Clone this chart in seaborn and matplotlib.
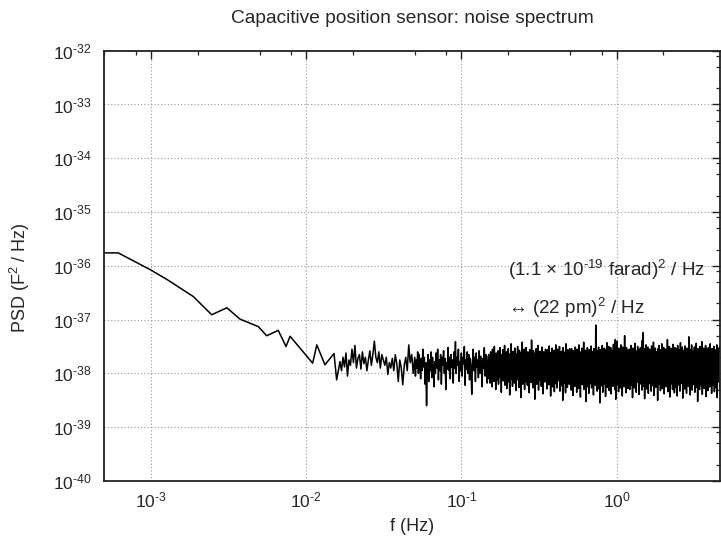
import numpy as np
import pandas as pd
import seaborn as sns
import matplotlib.pyplot as plt
from matplotlib.ticker import LogLocator, NullFormatter, FixedLocator, FuncFormatter

# low-frequency part: frequency (Hz) and log10 PSD
low_freq = [5.0e-4, 6.15e-4, 9.86e-4, 1.26e-3, 1.87e-3, 2.46e-3, 3.08e-3, 3.74e-3,
            4.91e-3, 5.56e-3, 6.6e-3, 7.41e-3, 7.87e-3, 9.12e-3, 1.10e-2, 1.17e-2,
            1.32e-2, 1.51e-2, 1.57e-2]
low_log_psd = [-35.76, -35.76, -36.07, -36.25, -36.57, -36.91, -36.78, -36.99,
               -37.13, -37.30, -37.20, -37.50, -37.31, -37.53, -37.81, -37.47,
               -37.84, -37.63, -38.12]

# noise floor, in hundredths of a decade above 1e-38
# 0.0165 - 0.05 Hz
noise_a = [22, 5, 30, 12, 38, -5, 25, 15, 45, 20, 52, 10, 28, 35, 8, 40, 18, 30, 5, 25,
           42, 15, 35, 60, 30, 20, 40, 10, 35, 25, 15, 30, -2, 20, 10, 28, 5, 35, 18, -15,
           25, 10, -21, 15, 30, 5, 53, 20, 35, 0]
# 0.05 - 0.15 Hz
noise_b = [30, -5, 25, 10, 40, 0, 35, 15, -10, 28, 5, 45, 12, 30, -20, 20, -60, 10, 35, -15,
           25, 5, 40, -8, 30, 12, -25, 22, 0, 38, 10, 45, -12, 25, 5, 35, -20, 30, 15, 42,
           0, 28, -30, 20, 8, 48, 5, 30, -10, 35, 12, 25, -18, 40, 10, 59, 0, 30, 15, 45,
           -15, 22, 5, 38, -5, 30, 18, 50, -22, 25, 8, 40, 0, 35, -12, 28, 10, -39, 20, 45,
           5, 30, -15, 38, 12, 25, -8, 42, 0, 32, 15, -25, 28, 10, 48, -5, 35, 20, -18, 30]
# 0.15 - 4.7 Hz
noise_c = [35, -10, 28, -18, 40, 2, 30, -25, 45, 5, 25, -15, 50, -5, 32, -30, 38, 0, 28, -12,
           42, -20, 30, 5, 48, -8, 35, -35, 26, -2, 44, -14, 30, 8, 52, -22, 34, -6, 40, -28,
           30, 0, 46, -16, 36, -40, 28, 6, 55, -10, 33, -24, 41, 2, 29, -18, 47, -4, 37, -32,
           26, 4, 50, -12, 34, -26, 43, -6, 31, -45, 39, 0, 58, -20, 30, -8, 45, -30, 35, 3,
           48, -15, 28, -22, 40, 1, 33, -36, 44, -9, 36, -17, 62, -3, 29, -27, 42, -11, 31, -48,
           38, 5, 46, -20, 32, -5, 52, -31, 35, -13, 41, 0, 27, -24, 49, -7, 34, -38, 40, 2,
           30, -16, 45, -10, 37, -29, 44, -2, 33, -21, 51, -12, 39, -42, 28, 0, 47, -25, 36, -8,
           43, -34, 31, -6, 53, -19, 38, -27, 45, 1, 34, -14, 50, -33, 29, -9, 41, -23, 37, -50,
           48, -4, 32, -18, 40, -36, 55, -11, 35, -26, 44, 3, 30, -20, 46, -7, 39, -31, 46, -15,
           33, -41, 42, -2, 36, -24, 49, -12, 31, -35, 45, -5, 38, -28, 53, -17, 34, -44, 40, 0,
           47, -21, 35, -9, 58, -30, 37, -14, 43, -52, 32, -6, 48, -25, 39, -37, 44, -10, 36, -19,
           51, -27, 34, -3, 41, -40, 46, -16, 38, -22, 90, -8, 35, -33, 42, -13, 49, -29, 37, -55,
           44, -11, 39, -23, 52, -35, 36, -5, 47, -20, 40, -43, 45, -15, 57, -26, 38, -9, 50, -32,
           41, -18, 48, -38, 43, -7, 36, -24, 54, -14, 46, -30, 63, -48, 44, -12, 60, -21, 40, -34,
           47, -6, 42, -27, 53, -17, 38, -42, 49, -11, 45, -25, 70, -19, 41, -36, 48, -8, 43, -28,
           36, -14, 45, -30, 41, -4, 52, -22, 38, -45, 47, -10, 33, -27, 56, -6, 42, -35, 39, -17,
           50, -2, 37, -39, 44, -20, 48, -12, 35, -31, 61, -8, 76, -24, 46, -47, 38, -15, 53, -29,
           34, -5, 49, -37, 42, -19, 45, -9, 39, -33, 51, -23, 36, -3, 58, -41, 43, -16, 47, -26,
           40, -11, 37, -50, 46, -21, 52, -7, 38, -32, 44, -14, 55, -28, 41, -1, 48, -38, 36, -18,
           45, -25, 39, -6, 63, -34, 43, -13, 50, -44, 37, -20, 47, -9, 42, -30, 54, -16, 40, -36,
           48, -4, 35, -27, 46, -42, 52, -11, 39, -22, 44, -33, 57, -7, 41, -19, 49, -46, 38, -12,
           43, -29, 51, -15, 36, -37, 47, -3, 40, -24, 68, -18, 45, -40, 39, -10, 53, -31, 42, -21,
           37, -8, 49, -35, 44, -17, 56, -26, 41, -52, 46, -12, 38, -30, 50, -5, 43, -23, 59, -39,
           40, -14, 47, -28, 36, -9, 52, -43, 45, -19, 39, -32, 48, -6, 42, -25, 55, -15, 37, -37,
           46, -22, 41, -11, 50, -34, 44, -2, 38, -27, 53, -45, 47, -16, 40, -8, 49, -30, 43, -20]

x_ticks = [1e-3, 1e-2, 1e-1, 1e0]
y_ticks = [1e-40, 1e-39, 1e-38, 1e-37, 1e-36, 1e-35, 1e-34, 1e-33, 1e-32]

# frequency grid of each noise segment (log spaced sampling)
freq_a = np.geomspace(0.0165, 0.05, len(noise_a), endpoint=False)
freq_b = np.geomspace(0.05, 0.15, len(noise_b), endpoint=False)
freq_c = np.geomspace(0.15, 4.7, len(noise_c))

noise = np.array(noise_a + noise_b + noise_c)
df = pd.DataFrame({
    'f': np.concatenate([low_freq, freq_a, freq_b, freq_c]),
    'psd': np.concatenate([10.0 ** np.array(low_log_psd), 10.0 ** (-38 + noise / 100.0)]),
})

sns.set_style('white')
plt.rcParams['font.family'] = ['Liberation Sans', 'DejaVu Sans']
plt.rcParams['mathtext.fontset'] = 'custom'
plt.rcParams['mathtext.rm'] = 'Liberation Sans'
plt.rcParams['mathtext.it'] = 'Liberation Sans:italic'
plt.rcParams['mathtext.default'] = 'regular'


def pow10(v, pos):
    # gnuplot-style label, plain hyphen in the exponent
    e = int(round(np.log10(v)))
    if e < 0:
        return '10$^{\\text{-}%d}$' % -e
    return '10$^{%d}$' % e


fig = plt.figure(figsize=(7.21, 5.38), dpi=100)
ax = fig.add_axes([0.1447, 0.106, 0.8546, 0.7998])

sns.lineplot(data=df, x='f', y='psd', ax=ax, color='black', lw=1.1,
             sort=False, estimator=None)

ax.set_xscale('log')
ax.set_yscale('log')
ax.set_xlim(5e-4, 4.67)
ax.set_ylim(1e-40, 1e-32)

ax.xaxis.set_major_locator(FixedLocator(x_ticks))
ax.yaxis.set_major_locator(FixedLocator(y_ticks))
for axis in (ax.xaxis, ax.yaxis):
    axis.set_major_formatter(FuncFormatter(pow10))
    axis.set_minor_locator(LogLocator(base=10, subs=(2, 5, 8), numticks=30))
    axis.set_minor_formatter(NullFormatter())

ax.grid(True, which='major', color='#999999', ls=(0, (1, 2)), lw=0.8)
ax.tick_params(which='both', direction='in', top=True, right=True,
               labelsize=12.5, color='#222222')
ax.tick_params(which='major', length=6, width=1.0)
ax.tick_params(which='minor', length=3, width=0.9)
ax.tick_params(axis='x', pad=7)
ax.tick_params(axis='y', pad=9)
for s in ax.spines.values():
    s.set_linewidth(1.3)
    s.set_color('#222222')

ax.set_title('Capacitive position sensor: noise spectrum', fontsize=13.8, pad=20)
ax.set_xlabel('f (Hz)', fontsize=13, labelpad=5)
ax.set_ylabel('PSD (F$^2$ / Hz)', fontsize=13)
ax.yaxis.set_label_coords(-0.117, 0.472)

ax.text(0.2, 10 ** -36.07, '(1.1 $\\times$ 10$^{\\text{-}19}$ farad)$^2$ / Hz',
        fontsize=13.6, ha='left', va='center')
ax.text(0.2, 10 ** -36.78, '\u2194 (22 pm)$^2$ / Hz',
        fontsize=13.6, ha='left', va='center')

fig.savefig('out.png', dpi=100)
